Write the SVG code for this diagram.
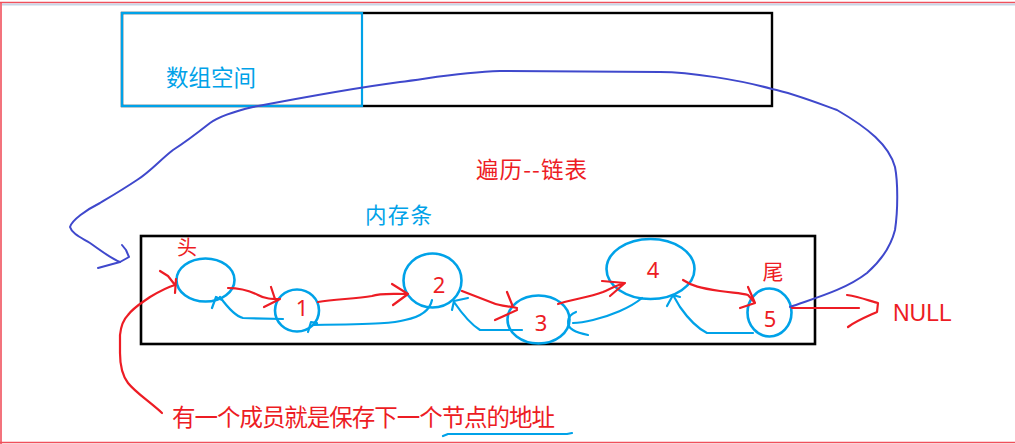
<svg xmlns="http://www.w3.org/2000/svg" width="1015" height="444" viewBox="0 0 1015 444">
<style>
.cjk{font-family:"Noto Sans CJK SC","Noto Sans",sans-serif}
.red{fill:#ED1C24}
.blue{fill:#00A2E8}
.num{font-family:"Noto Sans","Noto Sans CJK SC",sans-serif;font-size:22px;fill:#ED1C24;text-anchor:middle}
.node{fill:none;stroke:#00A2E8;stroke-width:2.6}
.rs{fill:none;stroke:#ED1C24;stroke-width:2.2;stroke-linecap:round;stroke-linejoin:round}
.bs{fill:none;stroke:#00A2E8;stroke-width:2.2;stroke-linecap:round;stroke-linejoin:round}
.is{fill:none;stroke:#3F48CC;stroke-width:2;stroke-linecap:round;stroke-linejoin:round}
</style>
<rect x="0" y="0" width="1015" height="444" fill="#ffffff"/>
<g id="frame">
<line x1="0" y1="2.5" x2="1015" y2="2.5" stroke="#F0505C" stroke-width="1.6"/>
<line x1="2" y1="4.5" x2="1015" y2="4.5" stroke="#C8D5E6" stroke-width="2"/>
<line x1="1" y1="2" x2="1" y2="444" stroke="#F0505C" stroke-width="1.6"/>
<line x1="0" y1="442.5" x2="1015" y2="442.5" stroke="#F0505C" stroke-width="1.6"/>
</g>
<g id="array-space">
<rect x="122" y="13" width="650" height="93" fill="none" stroke="#000" stroke-width="2.4"/>
<rect x="122" y="13" width="240" height="93" fill="none" stroke="#00A2E8" stroke-width="2.2"/>
<text x="166" y="86" class="cjk blue" font-size="22.5" textLength="90" lengthAdjust="spacing">数组空间</text>
</g>
<g id="title">
<text x="476" y="178" class="cjk red" font-size="22.5" textLength="111" lengthAdjust="spacing">遍历--链表</text>
</g>
<g id="memory">
<rect x="141" y="236" width="674" height="108" fill="none" stroke="#000" stroke-width="2.6"/>
<text x="365" y="223" class="cjk blue" font-size="21.5" textLength="67" lengthAdjust="spacing">内存条</text>
</g>
<g id="node-head">
<ellipse cx="205.5" cy="280" rx="29" ry="21.5" class="node"/>
<text x="187" y="255" class="cjk red" font-size="20" text-anchor="middle">头</text>
</g>
<g id="node-1">
<ellipse cx="297" cy="310.5" rx="22" ry="21" class="node"/>
<text x="302" y="316" class="num">1</text>
</g>
<g id="node-2">
<ellipse cx="432.5" cy="280.5" rx="29" ry="27" class="node"/>
<text x="439" y="293" class="num">2</text>
</g>
<g id="node-3">
<ellipse cx="538.5" cy="319.5" rx="31" ry="24" class="node"/>
<text x="541" y="331" class="num" font-size="23">3</text>
</g>
<g id="node-4">
<ellipse cx="650.5" cy="269" rx="44" ry="30" class="node"/>
<text x="653" y="278" class="num">4</text>
</g>
<g id="node-5">
<ellipse cx="769.5" cy="312.5" rx="22" ry="24" class="node"/>
<text x="770" y="327" class="num">5</text>
<text x="773" y="279" class="cjk red" font-size="21" text-anchor="middle">尾</text>
</g>
<g id="null">
<text x="893" y="321" font-family="Liberation Sans, Arial, sans-serif" font-size="23" fill="#ED1C24">NULL</text>
</g>
<g id="note">
<text x="172" y="426" class="cjk red" font-size="23.5" textLength="383" lengthAdjust="spacing">有一个成员就是保存下一个节点的地址</text>
<path class="bs" d="M443,436 L448,434 L567,434 L572,433"/>
</g>
<g id="connectors">
<path class="is" d="M790,307 C815,298 845,290 867,273 C884,258 892,242 895,230 C898,210 898,182 895,167 C889,145 868,128 837,110 C815,102 792,93 772,89 C740,80 690,72 660,72 L500,71 C462,72 432,78 400,82 C370,86 300,98 253,107 C232,112 217,118 210,123 C196,134 184,143 173,150 C160,160 150,172 137,180 C122,190 110,197 100,203 C86,210 72,220 70,227 C72,234 82,238 90,243 C100,250 110,258 120,262"/>
<path class="is" d="M122,245 L126,250 L129,257 L120,262 L98,268"/>
<path class="rs" d="M162,413 C150,402 135,392 128,383 C122,375 120,365 120,353 L120,335 C121,325 124,319 128,315 C133,308 140,304 150,297 C160,291 168,287 175,285"/>
<path class="rs" d="M160,271 L168,276 L175,285 M176,279 L175,293"/>
<path class="rs" d="M228,288 C240,288 250,291 258,295 C265,299 272,299 280,299 M271,287 L275,299 M264,307 L280,299"/>
<path class="rs" d="M318,302 C335,299 355,299 372,296 C380,293 390,294 408,294 M392,284 L408,294 L393,305"/>
<path class="rs" d="M462,291 C475,296 485,300 493,303 C500,306 508,306 517,308 M507,292 L513,307 M495,320 L517,310"/>
<path class="rs" d="M558,304 C570,300 590,297 603,292 C610,289 617,285 625,283 M602,281 L625,283 L610,296"/>
<path class="rs" d="M683,280 C692,286 700,288 720,291 C735,293 742,293 748,295 L755,303 M748,287 L755,303 M740,308 L755,303"/>
<path class="rs" d="M792,308 L859,308 M847,295 C860,297 870,301 878,303 L877,312 C866,317 856,321 848,327"/>
<path class="bs" d="M283,319 L243,318 C235,316 228,308 220,297 M212,308 L216,297 L222,300"/>
<path class="bs" d="M432,300 C430,310 420,317 405,320 C395,323 380,324 313,325 M308,332 L311,322 L317,323"/>
<path class="bs" d="M522,330 L480,330 C472,325 465,318 454,302 M452,310 L454,301 L468,298"/>
<path class="bs" d="M642,298 C630,308 610,316 593,320 C585,322 578,323 573,323 M576,312 C566,316 566,326 573,330 C578,333 583,334 588,335"/>
<path class="bs" d="M753,333 L707,333 C697,328 687,317 680,307 L673,295 M667,306 L673,295 L680,297"/>
</g>
</svg>
